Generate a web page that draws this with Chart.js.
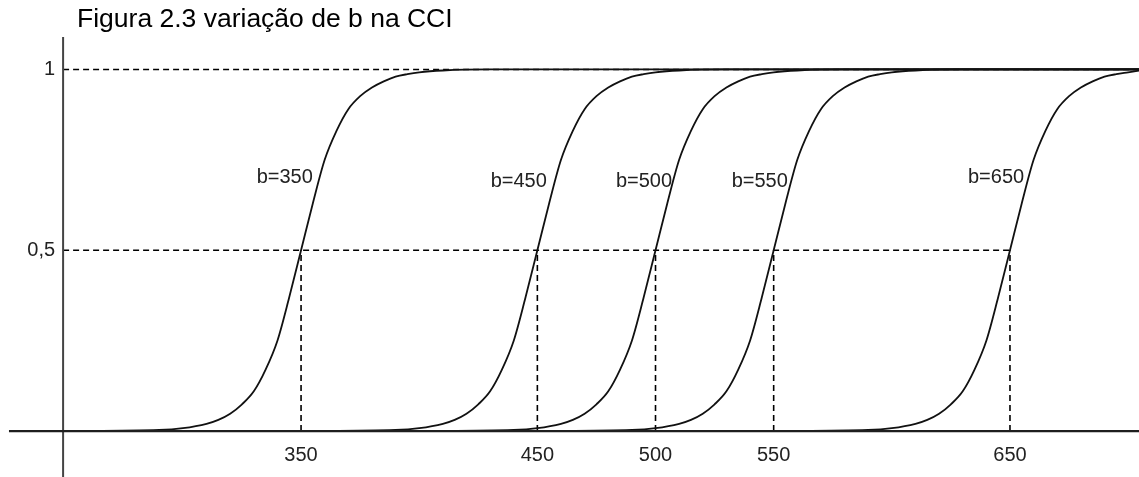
<!DOCTYPE html>
<html>
<head>
<meta charset="utf-8">
<script src="https://cdn.jsdelivr.net/npm/chart.js@4"></script>
<style>
  body { margin: 0; background: #fff; }
  canvas { display: block; }
</style>
</head>
<body>
<canvas id="grafik" width="1139" height="477"></canvas>
<script>
// valores
const bValues = [350, 450, 500, 550, 650];
const curveNames = ['b=350', 'b=450', 'b=500', 'b=550', 'b=650'];
const xTickLabels = ['350', '450', '500', '550', '650'];
const yTickValues = [1, 0.5];
const yTickLabels = ['1', '0,5'];

// nivel da curva (igual para as cinco curvas)
const curveLevels = [0, 0.003, 0.008, 0.02, 0.031, 0.048, 0.074, 0.11, 0.17, 0.25, 0.37, 0.5,
    0.63, 0.75, 0.83, 0.89, 0.926, 0.95, 0.967, 0.98, 0.987, 0.992, 0.997, 1, 1];
const curveX350 = [250, 290, 300, 310, 315, 320, 325, 330, 335, 340, 345, 350,
    355, 360, 365, 370, 375, 380, 385, 390, 395, 400, 410, 430, 705];
const curveX450 = [350, 390, 400, 410, 415, 420, 425, 430, 435, 440, 445, 450,
    455, 460, 465, 470, 475, 480, 485, 490, 495, 500, 510, 530, 705];
const curveX500 = [400, 440, 450, 460, 465, 470, 475, 480, 485, 490, 495, 500,
    505, 510, 515, 520, 525, 530, 535, 540, 545, 550, 560, 580, 705];
const curveX550 = [450, 490, 500, 510, 515, 520, 525, 530, 535, 540, 545, 550,
    555, 560, 565, 570, 575, 580, 585, 590, 595, 600, 610, 630, 705];
const curveX650 = [550, 590, 600, 610, 615, 620, 625, 630, 635, 640, 645, 650,
    655, 660, 665, 670, 675, 680, 685, 690, 695, 700, 705];
const curveXs = [curveX350, curveX450, curveX500, curveX550, curveX650];

// onde ficam os rotulos b=... (canto direito do texto)
const labelX = [355, 454, 507, 556, 656];
const labelY = [0.70, 0.69, 0.69, 0.69, 0.70];

// limites dos eixos
const xMin = 222.6, xMax = 704.6;
const yMin = -0.127, yMax = 1.192;
const axisX = 249.3;
const xAxisStart = 226.4;
const yAxisTop = 1.09;

const tituloTexto = 'Figura 2.3 variação de b na CCI';
const fonte = '"Liberation Sans", Arial, sans-serif';

function pontos(xs, ys) {
    return xs.map((x, i) => ({ x: x, y: ys[i] }));
}

const tracejado = [6, 4];
let datasets = [];

curveXs.forEach((xs, i) => {
    datasets.push({
        label: curveNames[i],
        data: pontos(xs, curveLevels),
        showLine: true,
        borderColor: '#111',
        borderWidth: 1.8,
        pointRadius: 0,
        cubicInterpolationMode: 'monotone',
        order: 1
    });
});

// linhas tracejadas de referencia
datasets.push({
    data: [{ x: axisX, y: 1 }, { x: xMax, y: 1 }],
    showLine: true, borderColor: '#000', borderWidth: 1.6, borderDash: tracejado, pointRadius: 0, order: 3
});
datasets.push({
    data: [{ x: axisX, y: 0.5 }, { x: bValues[bValues.length - 1], y: 0.5 }],
    showLine: true, borderColor: '#000', borderWidth: 1.6, borderDash: tracejado, pointRadius: 0, order: 3
});
bValues.forEach(b => {
    datasets.push({
        data: [{ x: b, y: 0 }, { x: b, y: 0.5 }],
        showLine: true, borderColor: '#000', borderWidth: 1.6, borderDash: tracejado, pointRadius: 0, order: 3
    });
});

// eixos
datasets.push({
    data: [{ x: xAxisStart, y: 0 }, { x: xMax, y: 0 }],
    showLine: true, borderColor: '#1e1e1e', borderWidth: 2.2, pointRadius: 0, order: 0
});
datasets.push({
    data: [{ x: axisX, y: yMin }, { x: axisX, y: yAxisTop }],
    showLine: true, borderColor: '#444', borderWidth: 2, pointRadius: 0, order: 0
});

const textos = {
    id: 'textos',
    afterDatasetsDraw(chart) {
        const ctx = chart.ctx;
        const xs = chart.scales.x, ys = chart.scales.y;
        ctx.save();
        ctx.fillStyle = '#000';
        ctx.font = '26.5px ' + fonte;
        ctx.textAlign = 'left';
        ctx.textBaseline = 'alphabetic';
        ctx.fillText(tituloTexto, 77, 27);

        ctx.fillStyle = '#222';
        ctx.font = '20px ' + fonte;
        ctx.textBaseline = 'middle';
        ctx.textAlign = 'center';
        bValues.forEach((b, i) => {
            ctx.fillText(xTickLabels[i], xs.getPixelForValue(b), ys.getPixelForValue(0) + 24);
        });
        ctx.textAlign = 'right';
        yTickValues.forEach((v, i) => {
            ctx.fillText(yTickLabels[i], xs.getPixelForValue(axisX) - 8, ys.getPixelForValue(v));
        });
        curveNames.forEach((nome, i) => {
            ctx.fillText(nome, xs.getPixelForValue(labelX[i]), ys.getPixelForValue(labelY[i]));
        });
        ctx.restore();
    }
};

const config = {
    type: 'scatter',
    data: { datasets: datasets },
    options: {
        responsive: false,
        animation: false,
        layout: { padding: 0 },
        plugins: {
            legend: { display: false },
            tooltip: { enabled: false },
            title: { display: false }
        },
        scales: {
            x: { type: 'linear', min: xMin, max: xMax, display: false },
            y: { type: 'linear', min: yMin, max: yMax, display: false }
        }
    },
    plugins: [textos]
};

new Chart(document.getElementById('grafik'), config);
</script>
</body>
</html>
